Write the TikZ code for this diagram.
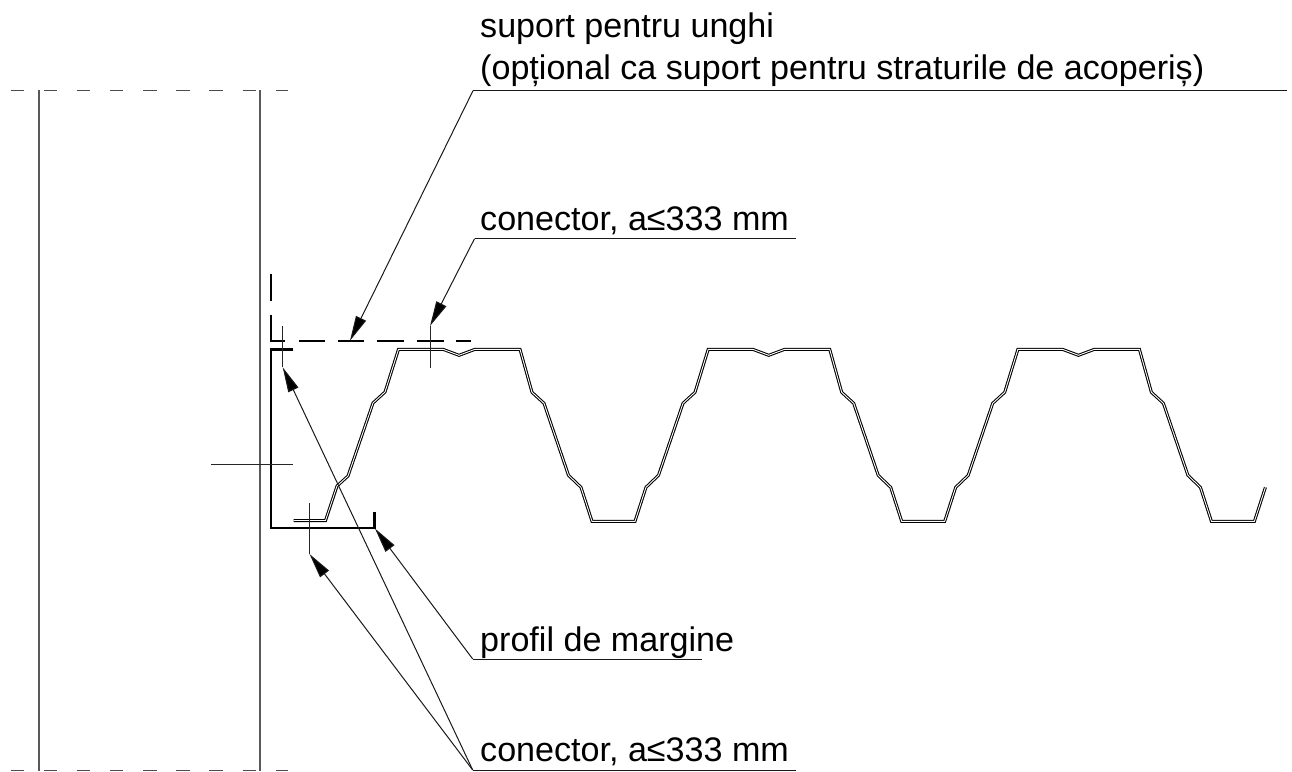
\documentclass[tikz,border=0pt]{standalone}
\usepackage{fontspec}
\setmainfont{Liberation Sans}
\usetikzlibrary{arrows.meta}
\tikzset{
  x=1pt,y=-1pt,
  label text/.style={anchor=base west,inner sep=0pt,font=\fontsize{34.1}{40}\selectfont,text=black},
  wall/.style={draw=black!65,line width=1.2pt},
  wall dash/.style={draw=black!70,line width=1.2pt,dash pattern=on 13.5pt off 19.65pt},
  thin line/.style={draw=black!85,line width=1pt},
  leader/.style={draw=black!90,line width=1pt},
  arrowed/.style={leader,-{Triangle[length=25pt,width=11pt,fill=black]}},
  angle profile/.style={draw=black,line width=2.4pt,line join=miter},
  sheet/.style={draw=black,double=white,line width=1.05pt,double distance=0.9pt,line join=miter},
}
\begin{document}
\begin{tikzpicture}
\useasboundingbox (0,0) rectangle (1292,771);
% wall
\path[wall] (39,90) -- (39,771);
\path[wall] (260,90) -- (260,771);
\path[wall dash] (10.5,90.5) -- (288,90.5);
\path[wall dash] (10.5,770.3) -- (288,770.3);
% corrugated sheet
\path[sheet] (293.5,520.5) -- (325.5,520.5) -- (337,486) -- (348,476) -- (373,403) -- (385,392) -- (398.5,349.3)
  -- ++(44.5,0) -- ++(16,6) -- ++(16,-6) -- ++(45,0) -- ++(12,43) -- ++(12,11) -- ++(24.5,72) -- ++(12.5,12) -- ++(11,34)
  -- ++(43,0) -- ++(11,-34) -- ++(12.5,-12) -- ++(24.5,-72) -- ++(12,-11) -- ++(13.2,-43)
  -- ++(44.5,0) -- ++(16,6) -- ++(16,-6) -- ++(45,0) -- ++(12,43) -- ++(12,11) -- ++(24.5,72) -- ++(12.5,12) -- ++(11,34)
  -- ++(43,0) -- ++(11,-34) -- ++(12.5,-12) -- ++(24.5,-72) -- ++(12,-11) -- ++(13.2,-43)
  -- ++(44.5,0) -- ++(16,6) -- ++(16,-6) -- ++(45,0) -- ++(12,43) -- ++(12,11) -- ++(24.5,72) -- ++(12.5,12) -- ++(11,34)
  -- ++(43,0) -- ++(11,-34);
% edge profile
\path[angle profile] (293.3,349.3) -- (271,349.3) -- (271,527.7) -- (374.3,527.7) -- (374.3,511.7);
% angle support, dashed
\path[angle profile,line width=2.1pt] (271,274.3) -- (271,300.7) (271,314.7) -- (271,340.7) -- (285,340.7)
  (298.5,340.7) -- (325,340.7) (338,340.7) -- (364,340.7) (377,340.7) -- (404,340.7)
  (417,340.7) -- (444,340.7) (456,340.7) -- (471,340.7);
% centre marks
\path[thin line] (282.7,326) -- (282.7,367.3);
\path[thin line] (430,326) -- (430,368);
\path[thin line] (211,464.5) -- (293,464.5);
\path[thin line] (309.5,503) -- (309.5,554);
% labels
\node[label text] (n1) at (480,37.5) {suport pentru unghi};
\node[label text] (n2) at (480,79.5) {(opțional ca suport pentru straturile de acoperiș)};
\node[label text] (n3) at (480,230) {conector, a≤333 mm};
\node[label text] (n4) at (480,651) {profil de margine};
\node[label text] (n5) at (480,761) {conector, a≤333 mm};
% leaders
\coordinate (t1) at (350,340.7);
\coordinate (t2) at (430,326);
\coordinate (t3) at (375,528.5);
\coordinate (t4) at (309.5,554);
\coordinate (t5) at (282.7,367.3);
\coordinate (k1) at (473,90.7);
\coordinate (e1) at (1286.5,90.7);
\coordinate (k2) at (474.5,238.7);
\coordinate (e2) at (796,238.7);
\coordinate (k3) at (472.7,659);
\coordinate (e3) at (702,659);
\coordinate (k4) at (472.7,770);
\coordinate (e4) at (796,770);
\path[leader] (e1) -- (k1);
\path[arrowed] (k1) -- (t1);
\path[leader] (e2) -- (k2);
\path[arrowed] (k2) -- (t2);
\path[leader] (e3) -- (k3);
\path[arrowed] (k3) -- (t3);
\path[leader] (e4) -- (k4);
\path[arrowed] (k4) -- (t4);
\path[arrowed] (k4) -- (t5);
\end{tikzpicture}
\end{document}
